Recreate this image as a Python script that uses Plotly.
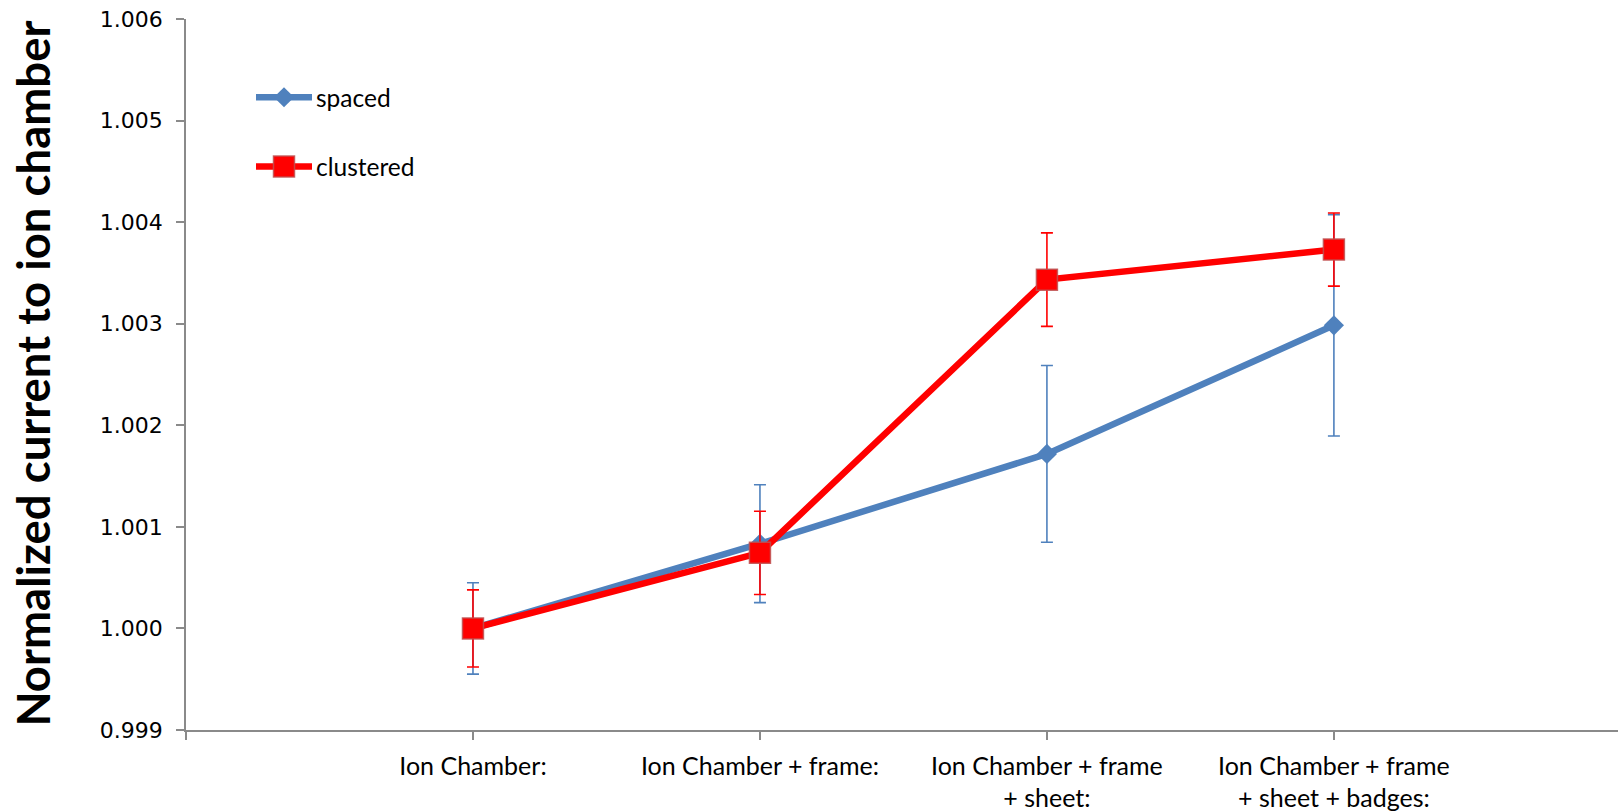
import plotly.graph_objects as go

# Measurement setups (category axis)
categories = [
    "Ion Chamber:",
    "Ion Chamber + frame:",
    "Ion Chamber + frame<br>+ sheet:",
    "Ion Chamber + frame<br>+ sheet + badges:",
]

# Normalized current relative to the bare ion chamber
spaced = [1.000000, 1.000834, 1.001718, 1.002984]
spaced_err = [0.00045, 0.00058, 0.00087, 0.00109]

clustered = [1.000000, 1.000744, 1.003434, 1.003730]
clustered_err = [0.00038, 0.00041, 0.00046, 0.00036]

y_ticks = [0.999, 1.000, 1.001, 1.002, 1.003, 1.004, 1.005, 1.006]

BLUE = "#4F81BD"
RED = "#FF0000"
AXIS = "#8A8A8A"
SQUARE_EDGE = "rgba(190,80,80,0.85)"
TEXT_FONT = "Lato"

MARGIN_T, MARGIN_B = 19, 75
PLOT_H = 812 - MARGIN_T - MARGIN_B
PLOT_W = 1618 - 186

x_idx = list(range(len(categories)))

fig = go.Figure()

fig.add_trace(go.Scatter(
    x=x_idx, y=spaced, name="spaced", mode="lines+markers",
    line=dict(color=BLUE, width=6.5),
    marker=dict(symbol="diamond", size=15.5, color=BLUE),
    error_y=dict(type="data", array=spaced_err, color=BLUE, thickness=1.6, width=6),
    showlegend=False,
))
fig.add_trace(go.Scatter(
    x=x_idx, y=clustered, name="clustered", mode="lines+markers",
    line=dict(color=RED, width=6.5),
    marker=dict(symbol="square", size=21, color=RED,
                line=dict(color=SQUARE_EDGE, width=1.5)),
    error_y=dict(type="data", array=clustered_err, color=RED, thickness=1.6, width=6),
    showlegend=False,
))

# Legend samples on an overlay axis measured in pixels from the plot's lower-left corner
legend_items = [
    ("spaced", BLUE, "diamond", 15.5, PLOT_H - (98 - MARGIN_T)),
    ("clustered", RED, "square", 21, PLOT_H - (168 - MARGIN_T)),
]
for label, color, symbol, size, ypix in legend_items:
    fig.add_trace(go.Scatter(
        x=[70, 126], y=[ypix, ypix], mode="lines",
        line=dict(color=color, width=6.5),
        xaxis="x2", yaxis="y2", showlegend=False, hoverinfo="skip",
    ))
    mk = dict(symbol=symbol, size=size, color=color)
    if symbol == "square":
        mk["line"] = dict(color=SQUARE_EDGE, width=1.5)
    fig.add_trace(go.Scatter(
        x=[98], y=[ypix], mode="markers", marker=mk,
        xaxis="x2", yaxis="y2", showlegend=False, hoverinfo="skip",
    ))
    fig.add_annotation(
        x=128, y=ypix, xref="x2", yref="y2", text=label, showarrow=False,
        xanchor="left", yanchor="middle",
        font=dict(family=TEXT_FONT, size=24.5, color="black"),
    )

fig.add_annotation(
    text="<b>Normalized current to ion chamber</b>",
    xref="paper", yref="paper", x=0, y=0.5, xshift=-154, yshift=1,
    textangle=-90, showarrow=False, xanchor="center", yanchor="middle",
    font=dict(family=TEXT_FONT, size=45.5, color="black"),
)

fig.update_layout(
    width=1618, height=812,
    margin=dict(l=186, r=0, t=MARGIN_T, b=MARGIN_B),
    paper_bgcolor="white", plot_bgcolor="white",
    xaxis=dict(
        range=[-1, 3.99], tickmode="array",
        tickvals=[-1] + x_idx, ticktext=[""] + categories,
        showgrid=False, zeroline=False,
        showline=True, linecolor=AXIS, linewidth=1.5,
        ticks="outside", ticklen=8, tickcolor=AXIS, tickwidth=1.5,
        tickfont=dict(family=TEXT_FONT, size=25, color="black"),
        ticklabelstandoff=5,
    ),
    yaxis=dict(
        range=[0.999, 1.006], tickmode="array", tickvals=y_ticks,
        ticktext=[f"{v:.3f}" for v in y_ticks],
        showgrid=False, zeroline=False,
        showline=True, linecolor=AXIS, linewidth=1.5,
        ticks="outside", ticklen=8, tickcolor=AXIS, tickwidth=1.5,
        tickfont=dict(family="DejaVu Sans", size=22, color="black"),
        ticklabelstandoff=9,
    ),
    xaxis2=dict(domain=[0, 1], range=[0, PLOT_W], overlaying="x", visible=False, fixedrange=True),
    yaxis2=dict(domain=[0, 1], range=[0, PLOT_H], overlaying="y", visible=False, fixedrange=True),
)

fig.write_html("out.html")
